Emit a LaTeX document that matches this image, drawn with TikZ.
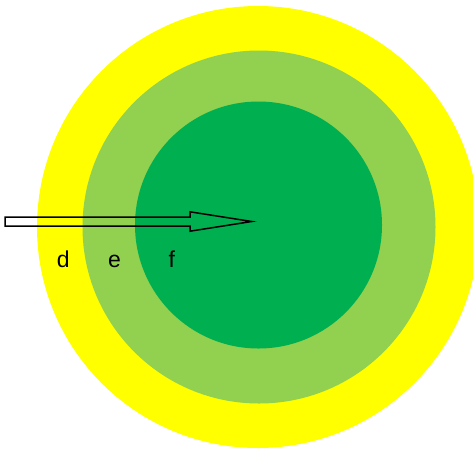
\documentclass[tikz,border=0pt]{standalone}
\usepackage{fontspec}
\setmainfont{Liberation Sans}
\definecolor{ring1}{HTML}{FFFF00}
\definecolor{ring2}{HTML}{92D050}
\definecolor{ring3}{HTML}{00B050}
\begin{document}
\begin{tikzpicture}[x=1pt,y=-1pt,
  lbl/.style={font=\fontsize{23}{25}\selectfont, text=black, anchor=base west, inner sep=0pt},
  hollowarrow/.style={draw=black, line width=1.5pt, fill=none, line join=miter}]
\useasboundingbox (0,0) rectangle (473,448);
\begin{scope}
\clip (0,0) rectangle (473,448);
\fill[ring1] (258,227) circle (221);
\fill[ring2] (259,227) circle (176.5);
\fill[ring3] (258.5,225) circle (123.5);
\end{scope}
\coordinate (tip) at (251.7,221.5);
\draw[hollowarrow] (5,217) -- (190,217) -- (190,211.8) -- (tip) -- (190,231.2) -- (190,226) -- (5,226) -- cycle;
\node[lbl] (d) at (56.6,267) {d};
\node[lbl] (e) at (108,267) {e};
\node[lbl] (f) at (168.3,267) {f};
\end{tikzpicture}
\end{document}
